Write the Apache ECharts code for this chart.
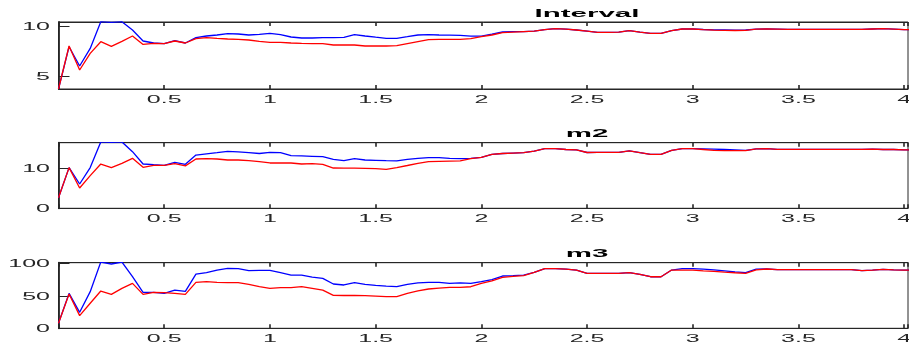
<!DOCTYPE html>
<html>
<head>
<meta charset="utf-8">
<script src="https://cdn.jsdelivr.net/npm/echarts@6/dist/echarts.min.js"></script>
<style>
  html, body { margin: 0; padding: 0; background: #fff; }
  #chart { width: 909px; height: 346px; }
</style>
</head>
<body>
<div id="chart"></div>
<script>
// sample times (s)
const times = [0, 0.05, 0.1, 0.15, 0.2, 0.25, 0.3, 0.35, 0.4, 0.45, 0.5, 0.55, 0.6, 0.65, 0.7, 0.75, 0.8, 0.85, 0.9, 0.95,
  1, 1.05, 1.1, 1.15, 1.2, 1.25, 1.3, 1.35, 1.4, 1.45, 1.5, 1.55, 1.6, 1.65, 1.7, 1.75, 1.8, 1.85, 1.9, 1.95,
  2, 2.05, 2.1, 2.15, 2.2, 2.25, 2.3, 2.35, 2.4, 2.45, 2.5, 2.55, 2.6, 2.65, 2.7, 2.75, 2.8, 2.85, 2.9, 2.95,
  3, 3.05, 3.1, 3.15, 3.2, 3.25, 3.3, 3.35, 3.4, 3.45, 3.5, 3.55, 3.6, 3.65, 3.7, 3.75, 3.8, 3.85, 3.9, 3.95,
  4, 4.05]

const titles = ['Interval', 'm2', 'm3']

const intervalBlue = [3.77, 8.0, 6.07, 7.83, 10.5, 10.43, 10.5, 9.67, 8.57, 8.37, 8.3, 8.6, 8.37, 8.9, 9.07, 9.17, 9.3, 9.27, 9.17, 9.23,
  9.33, 9.2, 8.97, 8.87, 8.87, 8.9, 8.9, 8.94, 9.2, 9.07, 8.95, 8.84, 8.84, 9.0, 9.17, 9.2, 9.17, 9.15, 9.13, 9.05,
  9.05, 9.25, 9.47, 9.5, 9.5, 9.55, 9.7, 9.8, 9.75, 9.67, 9.55, 9.43, 9.43, 9.45, 9.6, 9.45, 9.33, 9.33, 9.6, 9.77,
  9.77, 9.72, 9.68, 9.67, 9.65, 9.67, 9.75, 9.77, 9.75, 9.73, 9.73, 9.73, 9.73, 9.73, 9.73, 9.73, 9.73, 9.77, 9.8, 9.75,
  9.7, 9.7]
const intervalRed = [3.77, 8.07, 5.67, 7.33, 8.5, 8.03, 8.53, 9.07, 8.23, 8.33, 8.3, 8.57, 8.37, 8.8, 8.9, 8.83, 8.77, 8.73, 8.67, 8.53,
  8.43, 8.43, 8.37, 8.33, 8.3, 8.3, 8.17, 8.17, 8.17, 8.07, 8.07, 8.07, 8.1, 8.3, 8.5, 8.7, 8.73, 8.73, 8.73, 8.8,
  9.0, 9.17, 9.4, 9.45, 9.5, 9.55, 9.7, 9.8, 9.75, 9.67, 9.55, 9.43, 9.43, 9.45, 9.6, 9.45, 9.33, 9.33, 9.6, 9.77,
  9.77, 9.7, 9.65, 9.63, 9.62, 9.63, 9.75, 9.77, 9.75, 9.73, 9.73, 9.73, 9.73, 9.73, 9.73, 9.73, 9.73, 9.77, 9.8, 9.75,
  9.7, 9.7]

const m2Blue = [2.65, 10.17, 6.07, 10.17, 16.6, 16.5, 16.6, 14.15, 11.07, 10.9, 10.75, 11.5, 11.0, 13.3, 13.6, 13.9, 14.24, 14.1, 13.9, 13.7,
  14.0, 13.9, 13.16, 13.1, 13.0, 12.9, 12.25, 11.9, 12.4, 12.08, 12.0, 11.9, 11.85, 12.25, 12.5, 12.66, 12.66, 12.5, 12.4, 12.5,
  12.75, 13.5, 13.7, 13.8, 13.9, 14.3, 14.9, 14.9, 14.7, 14.6, 13.95, 14.0, 14.0, 14.0, 14.33, 13.9, 13.5, 13.5, 14.5, 14.9,
  14.9, 14.85, 14.8, 14.7, 14.6, 14.5, 14.85, 14.9, 14.75, 14.75, 14.75, 14.75, 14.75, 14.75, 14.75, 14.75, 14.75, 14.8, 14.7, 14.7,
  14.6, 14.6]
const m2Red = [2.65, 10.17, 5.07, 8.16, 11.07, 10.17, 11.25, 12.5, 10.25, 10.75, 10.75, 11.16, 10.6, 12.33, 12.4, 12.33, 12.08, 12.08, 11.9, 11.66,
  11.33, 11.33, 11.33, 11.07, 11.16, 11.0, 10.07, 10.05, 10.05, 10.0, 9.9, 9.75, 10.17, 10.7, 11.25, 11.66, 11.75, 11.8, 11.85, 12.4,
  12.75, 13.5, 13.7, 13.8, 13.9, 14.3, 14.9, 14.9, 14.7, 14.6, 13.95, 14.0, 14.0, 14.0, 14.33, 13.9, 13.5, 13.5, 14.5, 14.9,
  14.9, 14.7, 14.5, 14.4, 14.4, 14.4, 14.85, 14.9, 14.75, 14.75, 14.75, 14.75, 14.75, 14.75, 14.75, 14.75, 14.75, 14.8, 14.7, 14.7,
  14.6, 14.6]

const m3Blue = [7.7, 53.8, 24.6, 56.4, 102, 99, 102, 79.4, 55.3, 55.3, 53.8, 58.9, 56.9, 83.5, 85.6, 89.7, 92.3, 91.8, 88.7, 89.2,
  89.2, 85.6, 82, 82, 78.9, 76.9, 68.2, 66.7, 70.3, 67.7, 66, 65, 64.1, 67.7, 70, 70.8, 70.8, 69.2, 70, 69.2,
  71.8, 75, 80.5, 81, 82, 86, 92, 92, 91, 89.7, 84.6, 84.6, 84.6, 84.6, 85.6, 83, 79.4, 79.4, 89.7, 92,
  92, 91, 90, 88.5, 87, 85.6, 91, 91.3, 90.3, 90.3, 90.3, 90.3, 90.3, 90.3, 90.3, 90.3, 88.7, 89.5, 90.8, 90,
  89.7, 89.7]
const m3Red = [7.7, 52.8, 19.5, 38.5, 57.4, 52.3, 61.5, 69.2, 52.3, 55.3, 54.9, 53.8, 52.3, 70.8, 71.8, 70.8, 70.3, 70.3, 67.7, 64.1,
  61.5, 62.6, 62.6, 64.1, 61.5, 58.9, 50.8, 50.5, 50.5, 50.3, 49.5, 48.7, 48.7, 53.8, 57.5, 60.5, 62, 63, 63.1, 64,
  69.2, 73, 78.5, 80, 81, 86, 92, 92, 91, 89.7, 84.6, 84.6, 84.6, 84.6, 85.6, 83, 79.4, 79.4, 89.7, 89.7,
  89.7, 88.5, 87.7, 86.5, 85.5, 84.6, 90, 91.3, 90.3, 90.3, 90.3, 90.3, 90.3, 90.3, 90.3, 90.3, 88.7, 89.5, 90.8, 90,
  89.7, 89.7]

// tick values / labels
const xTicks = [0.5, 1, 1.5, 2, 2.5, 3, 3.5, 4]
const xTickLabels = ['0.5', '1', '1.5', '2', '2.5', '3', '3.5', '4']
const yTicks = [[5, 10], [0, 10], [0, 50, 100]]
const yTickLabels = [['5', '10'], ['0', '10'], ['0', '50', '100']]
const yRanges = [[3.77, 10.47], [0, 16.4], [0, 101]]

const blues = [intervalBlue, m2Blue, m3Blue]
const reds = [intervalRed, m2Red, m3Red]

const axisColor = '#262626'
const gridTops = [22, 142.7, 262.7]
const gridHeight = 66.5

let chart = echarts.init(document.getElementById('chart'))

const grids = []
const xAxes = []
const yAxes = []
const series = []
for (let i = 0; i < 3; i++) {
  grids.push({
    left: 58.5,
    right: 1,
    top: gridTops[i],
    height: i === 0 ? 67 : gridHeight - 0.9,
    show: true,
    borderColor: axisColor,
    borderWidth: 1,
    backgroundColor: '#fff'
  })
  // bottom axis
  xAxes.push({
    type: 'value',
    gridIndex: i,
    position: 'bottom',
    min: 0,
    max: 4.018,
    interval: 0.5,
    axisLine: { show: true, onZero: false, lineStyle: { color: axisColor, width: 1 } },
    axisTick: { show: true, inside: true, length: 4, lineStyle: { color: axisColor, width: 1.6 } },
    axisLabel: { show: false },
    splitLine: { show: false }
  })
  // top axis (mirror ticks)
  xAxes.push({
    type: 'value',
    gridIndex: i,
    position: 'top',
    min: 0,
    max: 4.018,
    interval: 0.5,
    axisLine: { show: true, onZero: false, lineStyle: { color: axisColor, width: 1 } },
    axisTick: { show: true, inside: true, length: 4, lineStyle: { color: axisColor, width: 1.6 } },
    axisLabel: { show: false },
    splitLine: { show: false }
  })
  yAxes.push({
    type: 'value',
    gridIndex: i,
    min: yRanges[i][0],
    max: yRanges[i][1],
    axisLine: { show: true, onZero: false, lineStyle: { color: axisColor, width: 1.8 } },
    axisTick: { show: true, inside: true, length: 11, customValues: yTicks[i], lineStyle: { color: axisColor, width: 1 } },
    axisLabel: { show: false },
    splitLine: { show: false }
  })
  series.push({
    type: 'line',
    xAxisIndex: i * 2,
    yAxisIndex: i,
    data: times.map((t, k) => [t, blues[i][k]]),
    showSymbol: false,
    clip: true,
    lineStyle: { color: '#0000ff', width: 1.3 },
    itemStyle: { color: '#0000ff' },
    animation: false
  })
  series.push({
    type: 'line',
    xAxisIndex: i * 2,
    yAxisIndex: i,
    data: times.map((t, k) => [t, reds[i][k]]),
    showSymbol: false,
    clip: true,
    lineStyle: { color: '#ff0000', width: 1.3 },
    itemStyle: { color: '#ff0000' },
    animation: false
  })
}

chart.setOption({
  animation: false,
  grid: grids,
  xAxis: xAxes,
  yAxis: yAxes,
  series: series
})

// tick labels and titles: the reference text is stretched wide, so draw with scaleX
const graphics = []
for (let i = 0; i < 3; i++) {
  const yBottom = chart.convertToPixel({ yAxisIndex: i }, yRanges[i][0])
  const yTop = chart.convertToPixel({ yAxisIndex: i }, yRanges[i][1])
  xTicks.forEach((v, k) => {
    graphics.push({
      type: 'text',
      x: chart.convertToPixel({ xAxisIndex: i * 2 }, v),
      y: yBottom + 11,
      scaleX: 2.5,
      silent: true,
      style: {
        text: xTickLabels[k],
        font: '10px "Liberation Sans", Arial, sans-serif',
        fill: axisColor,
        align: 'center',
        verticalAlign: 'middle',
        textAlign: 'center',
        textVerticalAlign: 'middle'
      }
    })
  })
  yTicks[i].forEach((v, k) => {
    graphics.push({
      type: 'text',
      x: 50,
      y: chart.convertToPixel({ yAxisIndex: i }, v) + 1,
      scaleX: 2.5,
      silent: true,
      style: {
        text: yTickLabels[i][k],
        font: '10px "Liberation Sans", Arial, sans-serif',
        fill: axisColor,
        align: 'right',
        verticalAlign: 'middle',
        textAlign: 'right',
        textVerticalAlign: 'middle'
      }
    })
  })
  graphics.push({
    type: 'text',
    x: 587,
    y: yTop - 8,
    scaleX: 2.95,
    silent: true,
    style: {
      text: titles[i],
      font: 'bold 10px "Liberation Sans", Arial, sans-serif',
      fill: '#000',
      align: 'center',
      verticalAlign: 'middle',
      textAlign: 'center',
      textVerticalAlign: 'middle'
    }
  })
}
chart.setOption({ graphic: graphics })
</script>
</body>
</html>
